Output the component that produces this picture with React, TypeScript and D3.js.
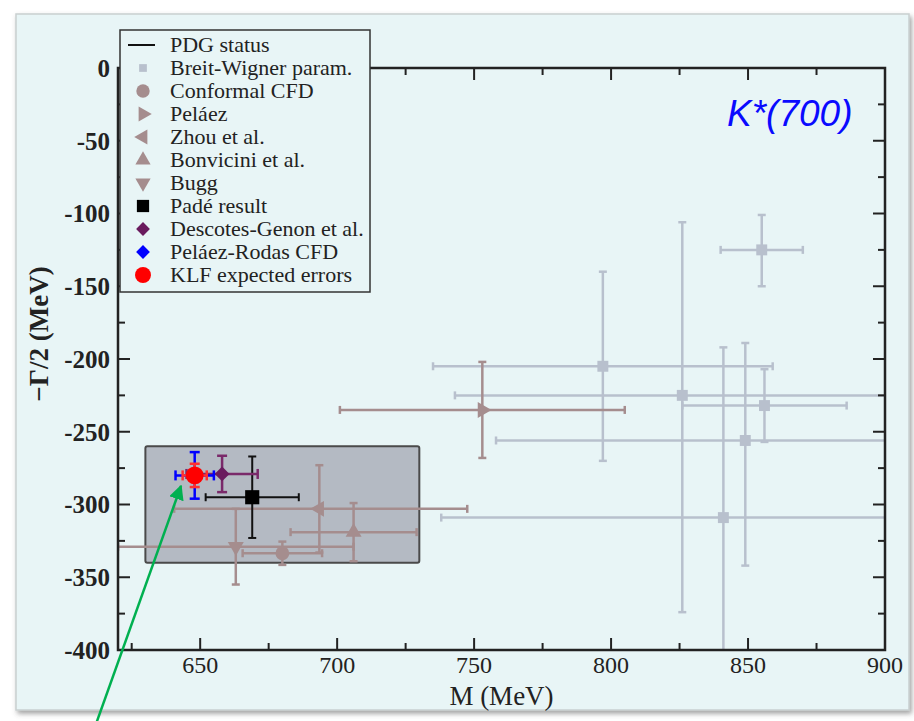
import React from 'react';
import * as d3 from 'd3';

// pole positions: [M, -Γ/2, M err low, M err high, Γ/2 err up, Γ/2 err down]
const breitWigner = [
  [855, -125, 15, 15, 24, 25],
  [797, -205, 62, 62, 65, 65],
  [826, -225, 83, 83, 119, 149],
  [856, -232, 30, 30, 25, 25],
  [849, -256, 91, 91, 67, 86],
  [841, -309, 103, 103, 117, 117],
];
const conformal = [[680, -333.5, 14.5, 14.5, 8, 8]];
const pelaez = [[753, -235, 52, 52, 33, 33]];
const zhou = [[693.5, -303, 53, 54, 30, 30]];
const bonvicini = [[706, -319, 23, 23, 20, 20]];
const bugg = [[663, -329, 43, 43, 26, 26]];
const pade = [[669, -295, 17, 17, 28, 28]];
const descotes = [[658, -279, 13, 13, 12.5, 12.5]];
const pelaezRodas = [[648, -280, 7, 7, 16, 16]];
const klf = [[648, -280, 4.4, 4.4, 8, 8]];

// highlighted region [M min, M max, G min, G max]
const boxRegion = [630, 730, -340, -260];

const xTicks = [650, 700, 750, 800, 850, 900];
const yTicks = [0, -50, -100, -150, -200, -250, -300, -350, -400];

const legendLabels = [
  'PDG status',
  'Breit-Wigner param.',
  'Conformal CFD',
  'Peláez',
  'Zhou et al.',
  'Bonvicini et al.',
  'Bugg',
  'Padé result',
  'Descotes-Genon et al.',
  'Peláez-Rodas CFD',
  'KLF expected errors',
];

const SERIF = "'Liberation Serif', 'DejaVu Serif', serif";
const BG = '#e8f5f6';
const BW_COL = '#b8c0cd';
const BROWN = '#a58d8e';

const x = d3.scaleLinear().domain([620, 900]).range([118, 885]);
const y = d3.scaleLinear().domain([-400, 0]).range([650, 68]);

type Shape = 'square' | 'circle' | 'triangle' | 'diamond';

const symbolPath = (shape: Shape, size: number) => {
  const t = shape === 'circle' ? d3.symbolCircle
    : shape === 'triangle' ? d3.symbolTriangle
    : d3.symbolSquare;
  return d3.symbol().type(t).size(size)() as string;
};

const series = [
  { data: breitWigner, color: BW_COL, bar: BW_COL, shape: 'square', rot: 0, size: 120, legSize: 60, cap: 4, w: 2.5 },
  { data: conformal, color: BROWN, bar: BROWN, shape: 'circle', rot: 0, size: 150, legSize: 140, cap: 4, w: 2.5 },
  { data: pelaez, color: BROWN, bar: BROWN, shape: 'triangle', rot: 90, size: 110, legSize: 100, cap: 4, w: 2.5 },
  { data: zhou, color: BROWN, bar: BROWN, shape: 'triangle', rot: -90, size: 110, legSize: 100, cap: 4, w: 2.5 },
  { data: bonvicini, color: BROWN, bar: BROWN, shape: 'triangle', rot: 0, size: 110, legSize: 100, cap: 4, w: 2.5 },
  { data: bugg, color: BROWN, bar: BROWN, shape: 'triangle', rot: 180, size: 110, legSize: 100, cap: 4, w: 2.5 },
  { data: pade, color: '#000000', bar: '#111111', shape: 'square', rot: 0, size: 200, legSize: 150, cap: 4, w: 2 },
  { data: descotes, color: '#6a1b5e', bar: '#7a2a6a', shape: 'diamond', rot: 45, size: 110, legSize: 95, cap: 5, w: 2.5 },
  { data: pelaezRodas, color: '#0000ff', bar: '#0000ff', shape: 'diamond', rot: 45, size: 100, legSize: 95, cap: 5, w: 2.5 },
  { data: klf, color: '#ff0000', bar: '#ff3030', shape: 'circle', rot: 0, size: 250, legSize: 200, cap: 5, w: 2.5 },
];

const ErrorBar = ({ d, color, cap, w }: any) => {
  const [m, g, ml, mh, gu, gd] = d;
  const cx = x(m), cy = y(g);
  const xl = x(m - ml), xr = x(m + mh);
  const yt = y(g + gu), yb = y(g - gd);
  return (
    <g stroke={color} strokeWidth={w} fill="none">
      <line x1={xl} x2={xr} y1={cy} y2={cy} />
      <line x1={cx} x2={cx} y1={yt} y2={yb} />
      <line x1={xl} x2={xl} y1={cy - cap} y2={cy + cap} />
      <line x1={xr} x2={xr} y1={cy - cap} y2={cy + cap} />
      <line x1={cx - cap} x2={cx + cap} y1={yt} y2={yt} />
      <line x1={cx - cap} x2={cx + cap} y1={yb} y2={yb} />
    </g>
  );
};

export default function App() {
  const [x0, x1] = x.range();
  const [yb0, yt0] = y.range();
  const majorX = d3.range(650, 901, 50);
  const minorX = d3.range(625, 900, 50);
  const majorY = d3.range(-400, 1, 50);
  const minorY = d3.range(-375, 0, 50);

  const legX = 120, legY = 30, legRow = 23;

  return (
    <svg width={914} height={721} style={{ position: 'absolute', left: 0, top: 0, background: '#fff' }}>
      <defs>
        <filter id="shadow" x="-5%" y="-5%" width="110%" height="110%">
          <feDropShadow dx="2" dy="3" stdDeviation="2.5" floodColor="#555" floodOpacity="0.55" />
        </filter>
        <clipPath id="plotClip">
          <rect x={x0} y={yt0} width={x1 - x0} height={yb0 - yt0} />
        </clipPath>
        <marker id="arrowHead" viewBox="0 0 10 10" refX="9" refY="5" markerWidth="6" markerHeight="6" orient="auto">
          <path d="M0,0 L10,5 L0,10 z" fill="#00b050" />
        </marker>
      </defs>

      {/* picture panel */}
      <rect x={16} y={14} width={893} height={696} fill={BG} stroke="#c9cfd0" strokeWidth={1.5} filter="url(#shadow)" />

      {/* highlighted region */}
      <rect
        x={x(boxRegion[0])} y={y(boxRegion[3])}
        width={x(boxRegion[1]) - x(boxRegion[0])} height={y(boxRegion[2]) - y(boxRegion[3])}
        fill="#b4bac3" stroke="#4a4a4a" strokeWidth={2} rx={2}
      />

      {/* data */}
      <g clipPath="url(#plotClip)">
        {series.map((s, i) => (
          <g key={i}>
            {s.data.map((d, j) => <ErrorBar key={j} d={d} color={s.bar} cap={s.cap} w={s.w} />)}
            {s.data.map((d, j) => (
              <path key={'m' + j} d={symbolPath(s.shape as Shape, s.size)}
                transform={`translate(${x(d[0])},${y(d[1])}) rotate(${s.rot})`}
                fill={s.color} />
            ))}
          </g>
        ))}
      </g>

      {/* axes frame */}
      <rect x={x0} y={yt0} width={x1 - x0} height={yb0 - yt0} fill="none" stroke="#222" strokeWidth={2.5} />
      <g stroke="#222" strokeWidth={2}>
        {majorX.map(v => (
          <g key={'mx' + v}>
            <line x1={x(v)} x2={x(v)} y1={yb0} y2={yb0 - 12} />
            <line x1={x(v)} x2={x(v)} y1={yt0} y2={yt0 + 12} />
          </g>
        ))}
        {minorX.map(v => (
          <g key={'nx' + v}>
            <line x1={x(v)} x2={x(v)} y1={yb0} y2={yb0 - 7} />
            <line x1={x(v)} x2={x(v)} y1={yt0} y2={yt0 + 7} />
          </g>
        ))}
        {majorY.map(v => (
          <g key={'my' + v}>
            <line x1={x0} x2={x0 + 12} y1={y(v)} y2={y(v)} />
            <line x1={x1} x2={x1 - 12} y1={y(v)} y2={y(v)} />
          </g>
        ))}
        {minorY.map(v => (
          <g key={'ny' + v}>
            <line x1={x0} x2={x0 + 7} y1={y(v)} y2={y(v)} />
            <line x1={x1} x2={x1 - 7} y1={y(v)} y2={y(v)} />
          </g>
        ))}
      </g>

      {/* tick labels */}
      <g fontFamily={SERIF} fill="#222">
        {xTicks.map(v => (
          <text key={'xt' + v} x={x(v)} y={yb0 + 23} textAnchor="middle" fontSize={24}>{v}</text>
        ))}
        {yTicks.map(v => (
          <text key={'yt' + v} x={x0 - 8} y={y(v)} dy="0.35em" textAnchor="end" fontSize={25} fontWeight="bold">{v}</text>
        ))}
        <text x={(x0 + x1) / 2} y={705} textAnchor="middle" fontSize={27}>M (MeV)</text>
        <text transform="translate(48,334) rotate(-90)" textAnchor="middle" fontSize={27} fontWeight="bold">−Γ/2 (MeV)</text>
      </g>

      {/* legend */}
      <g>
        <rect x={legX} y={legY} width={250} height={262} fill={BG} stroke="#333" strokeWidth={1.5} />
        {legendLabels.map((lab, i) => {
          const cy = legY + 15 + i * legRow;
          const s = i === 0 ? null : series[i - 1];
          return (
            <g key={lab}>
              {s ? (
                <path d={symbolPath(s.shape as Shape, s.legSize)}
                  transform={`translate(143,${cy}) rotate(${s.rot})`} fill={s.color} />
              ) : (
                <line x1={128} x2={155} y1={cy} y2={cy} stroke="#111" strokeWidth={2} />
              )}
              <text x={170} y={cy} dy="0.33em" fontFamily={SERIF} fontSize={22} fill="#222">{lab}</text>
            </g>
          );
        })}
      </g>

      {/* annotation */}
      <text x={727} y={126} fontFamily="'Liberation Sans', Arial, sans-serif" fontStyle="italic" fontSize={37} fill="#0a0aff">K*(700)</text>
      <line x1={96} y1={724} x2={181} y2={486} stroke="#00b050" strokeWidth={2.5} markerEnd="url(#arrowHead)" />
    </svg>
  );
}
